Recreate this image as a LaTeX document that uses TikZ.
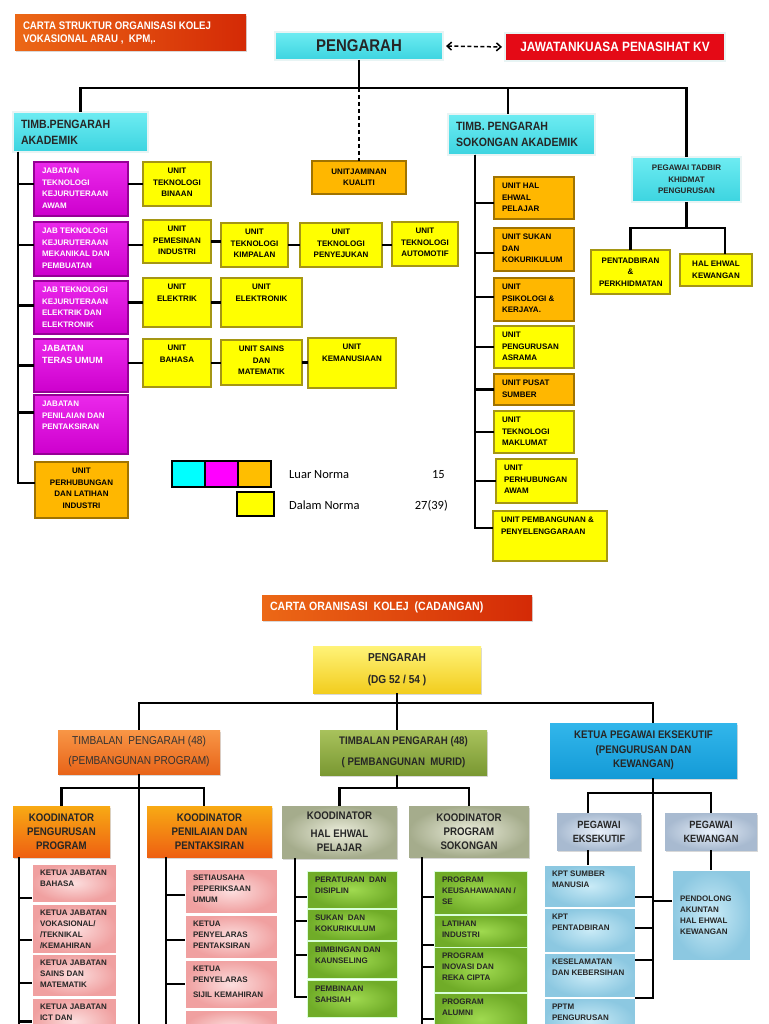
\documentclass[tikz,border=0pt]{standalone}
\usepackage{fontspec}
\setmainfont{Liberation Sans}
\newfontfamily\nar[FakeStretch=0.88]{Liberation Sans}
\newfontfamily\legf{Carlito}
\usetikzlibrary{shadows,arrows.meta}
\definecolor{cyT}{RGB}{110,236,242}
\definecolor{cyB}{RGB}{60,212,224}
\definecolor{cyE}{RGB}{232,244,244}
\definecolor{rdK}{RGB}{228,10,22}
\definecolor{tiL}{RGB}{236,104,22}
\definecolor{tiR}{RGB}{212,42,6}
\definecolor{mgT}{RGB}{235,40,235}
\definecolor{mgB}{RGB}{205,0,205}
\definecolor{mgE}{RGB}{150,0,150}
\definecolor{ylF}{RGB}{255,255,0}
\definecolor{ylE}{RGB}{165,150,20}
\definecolor{amF}{RGB}{255,183,0}
\definecolor{amE}{RGB}{160,115,0}
\definecolor{lgC}{RGB}{0,255,255}
\definecolor{lgM}{RGB}{255,0,255}
\definecolor{lgA}{RGB}{255,190,0}
\definecolor{bpT}{RGB}{255,243,120}
\definecolor{bpB}{RGB}{242,205,30}
\definecolor{t1T}{RGB}{248,150,70}
\definecolor{t1B}{RGB}{232,100,25}
\definecolor{t2T}{RGB}{168,194,92}
\definecolor{t2B}{RGB}{122,152,50}
\definecolor{keT}{RGB}{50,182,235}
\definecolor{keB}{RGB}{20,155,215}
\definecolor{kyT}{RGB}{248,170,20}
\definecolor{kyM}{RGB}{250,232,0}
\definecolor{kyB}{RGB}{238,96,18}
\definecolor{kgI}{RGB}{236,238,220}
\definecolor{kgO}{RGB}{165,172,140}
\definecolor{pgI}{RGB}{232,240,250}
\definecolor{pgO}{RGB}{168,186,208}
\definecolor{pkI}{RGB}{252,222,222}
\definecolor{pkO}{RGB}{240,160,160}
\definecolor{grI}{RGB}{160,218,80}
\definecolor{grO}{RGB}{112,172,40}
\definecolor{luI}{RGB}{202,235,247}
\definecolor{luO}{RGB}{140,200,225}
\newcommand\obox[8]{%
  \node[#2,anchor=north west,inner sep=0pt,outer sep=0pt,
    minimum width={(#5-#3)*1pt},minimum height={(#6-#4)*1pt}] (#1) at (#3,#4)
    {\parbox[c][\dimexpr#6pt-#4pt-12pt\relax][#7]{\dimexpr#5pt-#3pt-16pt\relax}{#8}};}
\begin{document}
\begin{tikzpicture}[x=1pt,y=-1pt,
  ln/.style={line width=2.2pt,black},
  sh/.style={drop shadow={shadow xshift=1.2pt,shadow yshift=-1.5pt,opacity=0.3}},
  cyanbox/.style={top color=cyT,bottom color=cyB,draw=cyE,line width=1.2pt,sh,text=black!85},
  hd/.style={font={\nar\bfseries\fontsize{12}{16}\selectfont}},
  titlebox/.style={left color=tiL,right color=tiR,draw=none,sh,text=white,font={\nar\bfseries\fontsize{11}{13.5}\selectfont}},
  redbox/.style={fill=rdK,draw=cyE,line width=1.2pt,sh,text=white,font={\nar\bfseries\fontsize{13.5}{16}\selectfont}},
  sm/.style={font={\fontsize{8}{11.5}\selectfont\bfseries}},
  magbox/.style={top color=mgT,bottom color=mgB,draw=mgE,line width=1.4pt,text=white,sm},
  ylbox/.style={fill=ylF,draw=ylE,line width=1.4pt,sm},
  ambox/.style={fill=amF,draw=amE,line width=1.4pt,sm},
  legbox/.style={draw=black,line width=1.2pt},
  bsm/.style={font={\fontsize{8}{11}\selectfont\bfseries},text=black!85},
  pkbox/.style={inner color=pkI,outer color=pkO,draw=white,line width=0.8pt,bsm},
  grbox/.style={inner color=grI,outer color=grO,draw=white!85!green,line width=0.8pt,bsm},
  lubox/.style={inner color=luI,outer color=luO,draw=white,line width=0.8pt,bsm},
  kd/.style={font={\nar\bfseries\fontsize{11}{14}\selectfont},text=black!85},
  kybox/.style={top color=kyT,middle color=kyM,bottom color=kyB,draw=none,sh,kd},
  kgbox/.style={inner color=kgI,outer color=kgO,draw=none,sh,kd},
  pgbox/.style={inner color=pgI,outer color=pgO,draw=none,sh,kd},
]
\useasboundingbox (0,0) rectangle (768,1024);
\clip (0,0) rectangle (768,1024);
\fill[white] (0,0) rectangle (768,1024);

% ===== TOP CHART =====
\obox{ttl}{titlebox}{15}{15}{246}{51}{c}{\raggedright CARTA STRUKTUR ORGANISASI KOLEJ\\VOKASIONAL ARAU ,\ \ KPM,.}
\obox{P}{cyanbox,font={\nar\bfseries\fontsize{17}{18}\selectfont}}{275}{32}{443}{60}{c}{\centering PENGARAH}
\obox{JK}{redbox}{505}{33}{725}{61}{c}{\centering JAWATANKUASA PENASIHAT KV}
\obox{TA}{cyanbox,hd}{13}{112}{148}{152}{c}{\raggedright TIMB.PENGARAH\\AKADEMIK}
\obox{TS}{cyanbox,hd}{448}{114}{595}{155}{c}{\raggedright TIMB. PENGARAH\\SOKONGAN AKADEMIK}
\obox{PT}{cyanbox,sm}{632}{157}{741}{202}{c}{\centering PEGAWAI TADBIR\\KHIDMAT\\PENGURUSAN}
\obox{UJK}{ambox}{312}{161}{406}{194}{c}{\centering UNITJAMINAN\\KUALITI}

\obox{M1}{magbox}{34}{162}{128}{216}{t}{\raggedright JABATAN\\TEKNOLOGI\\KEJURUTERAAN\\AWAM}
\obox{M2}{magbox}{34}{222}{128}{276}{t}{\raggedright JAB TEKNOLOGI\\KEJURUTERAAN\\MEKANIKAL DAN\\PEMBUATAN}
\obox{M3}{magbox}{34}{281}{128}{334}{t}{\raggedright JAB TEKNOLOGI\\KEJURUTERAAN\\ELEKTRIK DAN\\ELEKTRONIK}
\obox{M4}{magbox,font={\fontsize{9}{12}\selectfont\bfseries}}{34}{339}{128}{392}{t}{\raggedright JABATAN\\TERAS UMUM}
\obox{M5}{magbox}{34}{395}{128}{454}{t}{\raggedright JABATAN\\PENILAIAN DAN\\PENTAKSIRAN}
\obox{M6}{ambox}{35}{462}{128}{518}{t}{\centering UNIT\\PERHUBUNGAN\\DAN LATIHAN\\INDUSTRI}

\obox{U1}{ylbox}{143}{162}{211}{206}{t}{\centering UNIT\\TEKNOLOGI\\BINAAN}
\obox{U2}{ylbox}{143}{220}{211}{263}{t}{\centering UNIT\\PEMESINAN\\INDUSTRI}
\obox{K}{ylbox}{221}{223}{288}{267}{t}{\centering UNIT\\TEKNOLOGI\\KIMPALAN}
\obox{PY}{ylbox}{300}{223}{382}{267}{t}{\centering UNIT\\TEKNOLOGI\\PENYEJUKAN}
\obox{AU}{ylbox}{392}{222}{458}{266}{t}{\centering UNIT\\TEKNOLOGI\\AUTOMOTIF}
\obox{U3}{ylbox}{143}{278}{211}{327}{t}{\centering UNIT\\ELEKTRIK}
\obox{EL}{ylbox}{221}{278}{302}{327}{t}{\centering UNIT\\ELEKTRONIK}
\obox{U4}{ylbox}{143}{339}{211}{387}{t}{\centering UNIT\\BAHASA}
\obox{SM}{ylbox}{221}{340}{302}{385}{t}{\centering UNIT SAINS\\DAN\\MATEMATIK}
\obox{KM}{ylbox}{308}{338}{396}{388}{t}{\centering UNIT\\KEMANUSIAAN}

\obox{R1}{ambox}{494}{177}{574}{219}{t}{\raggedright UNIT HAL\\EHWAL\\PELAJAR}
\obox{R2}{ambox}{494}{228}{574}{271}{t}{\raggedright UNIT SUKAN\\DAN\\KOKURIKULUM}
\obox{R3}{ambox}{494}{278}{574}{321}{t}{\raggedright UNIT\\PSIKOLOGI \&\\KERJAYA.}
\obox{R4}{ylbox}{494}{326}{574}{368}{t}{\raggedright UNIT\\PENGURUSAN\\ASRAMA}
\obox{R5}{ambox}{494}{374}{574}{405}{t}{\raggedright UNIT PUSAT\\SUMBER}
\obox{R6}{ylbox}{494}{411}{574}{453}{t}{\raggedright UNIT\\TEKNOLOGI\\MAKLUMAT}
\obox{R7}{ylbox}{496}{459}{577}{503}{t}{\raggedright UNIT\\PERHUBUNGAN\\AWAM}
\obox{R8}{ylbox}{493}{511}{607}{561}{t}{\raggedright UNIT PEMBANGUNAN \&\\PENYELENGGARAAN}

\obox{PD}{ylbox}{591}{250}{670}{294}{c}{\centering PENTADBIRAN\\\&\\PERKHIDMATAN}
\obox{HE}{ylbox}{680}{254}{752}{286}{c}{\centering HAL EHWAL\\KEWANGAN}

% legend
\obox{L1}{legbox,fill=lgC}{172}{461}{205}{487}{c}{}
\obox{L2}{legbox,fill=lgM}{205}{461}{238}{487}{c}{}
\obox{L3}{legbox,fill=lgA}{238}{461}{271}{487}{c}{}
\obox{L4}{legbox,fill=ylF}{237}{492}{274}{516}{c}{}
\node[font={\legf\fontsize{12.5}{14}\selectfont},anchor=base west,inner sep=0pt] (lt1) at (289,478) {Luar Norma};
\node[font={\legf\fontsize{12.5}{14}\selectfont},anchor=base east,inner sep=0pt] (ln1) at (445,478) {15};
\node[font={\legf\fontsize{12.5}{14}\selectfont},anchor=base west,inner sep=0pt] (lt2) at (289,509) {Dalam Norma};
\node[font={\legf\fontsize{12.5}{14}\selectfont},anchor=base east,inner sep=0pt] (ln2) at (448,509) {27(39)};

% top connectors
\coordinate (bT) at (359,88);
\coordinate (jS) at (508,88);
\coordinate (bP) at (686.5,228);
\draw[ln] (P.south) -- (P.south |- bT);
\draw[ln] (TA.north) -- (TA.north |- bT) -- (PT.north |- bT) -- (PT.north);
\draw[ln] (jS) -- (jS |- TS.north);
\draw[line width=1.6pt,dash pattern=on 4pt off 3pt] (bT) -- (UJK.north);
\draw[line width=1.5pt,dash pattern=on 4pt off 2.5pt,{Straight Barb[length=4.5pt,width=8pt]}-{Straight Barb[length=4.5pt,width=8pt]},shorten <=3pt,shorten >=3pt] (P.east) -- (JK.west);

\draw[ln] ([xshift=5pt]TA.south west) |- ([yshift=5pt]M1.west);
\draw[ln] ([xshift=5pt]TA.south west) |- ([yshift=4pt]M2.west);
\draw[ln] ([xshift=5pt]TA.south west) |- ([yshift=2pt]M3.west);
\draw[ln] ([xshift=5pt]TA.south west) |- (M4.west);
\draw[ln] ([xshift=5pt]TA.south west) |- ([yshift=12pt]M5.west);
\draw[ln] ([xshift=5pt]TA.south west) |- ([yshift=7pt]M6.west);

\draw[ln] (U1.west -| M1.east) -- (U1.west);
\draw[ln] ([yshift=4pt]M2.east) -- ([yshift=4pt]M2.east -| U2.west);
\draw[ln] (U2.east) -- (U2.east -| K.west);
\draw[ln] (K.east) -- (K.east -| PY.west);
\draw[ln] (PY.east) -- (PY.east -| AU.west);
\draw[ln] (U3.west -| M3.east) -- (U3.west);
\draw[ln] (U3.east) -- (U3.east -| EL.west);
\draw[ln] (U4.west -| M4.east) -- (U4.west);
\draw[ln] (U4.east) -- (U4.east -| SM.west);
\draw[ln] (SM.east) -- (SM.east -| KM.west);

\draw[ln] ([xshift=27pt]TS.south west) |- ([yshift=-5pt]R1.west);
\draw[ln] ([xshift=27pt]TS.south west) |- ([yshift=-3.5pt]R2.west);
\draw[ln] ([xshift=27pt]TS.south west) |- ([yshift=2.5pt]R3.west);
\draw[ln] ([xshift=27pt]TS.south west) |- (R4.west);
\draw[ln] ([xshift=27pt]TS.south west) |- (R5.west);
\draw[ln] ([xshift=27pt]TS.south west) |- (R6.west);
\draw[ln] ([xshift=27pt]TS.south west) |- (R7.west);
\draw[ln] ([xshift=27pt]TS.south west) |- ([yshift=8pt]R8.west);

\draw[ln] (PT.south) -- (PT.south |- bP);
\draw[ln] (PD.north) |- ([xshift=9pt]HE.north |- bP) -- ([xshift=9pt]HE.north);

% ===== BOTTOM CHART =====
\obox{ttl2}{titlebox,font={\nar\bfseries\fontsize{12}{14}\selectfont}}{262}{595}{532}{620}{c}{\raggedright CARTA ORANISASI\ \ KOLEJ\ \ (CADANGAN)}
\obox{BP}{top color=bpT,bottom color=bpB,draw=none,sh,text=black!85,font={\nar\bfseries\fontsize{11.5}{22}\selectfont}}{313}{646}{481}{693}{c}{\centering PENGARAH\\(DG 52 / 54 )}
\obox{T1}{top color=t1T,bottom color=t1B,draw=none,sh,text=black!80,font={\nar\fontsize{11.5}{20}\selectfont}}{58}{730}{220}{774}{c}{\centering TIMBALAN\ \ PENGARAH (48)\\(PEMBANGUNAN PROGRAM)}
\obox{T2}{top color=t2T,bottom color=t2B,draw=none,sh,text=black!85,font={\nar\bfseries\fontsize{11}{21}\selectfont}}{320}{730}{487}{775}{c}{\centering TIMBALAN PENGARAH (48)\\( PEMBANGUNAN\ \ MURID)}
\obox{KE}{top color=keT,bottom color=keB,draw=none,sh,text=black!85,font={\nar\bfseries\fontsize{11}{14.5}\selectfont}}{550}{723}{737}{778}{c}{\centering KETUA PEGAWAI EKSEKUTIF\\(PENGURUSAN DAN\\KEWANGAN)}

\obox{KP}{kybox}{13}{806}{110}{857}{c}{\centering KOODINATOR\\PENGURUSAN\\PROGRAM}
\obox{KN}{kybox}{147}{806}{272}{857}{c}{\centering KOODINATOR\\PENILAIAN DAN\\PENTAKSIRAN}
\obox{KH}{kgbox}{282}{806}{397}{858}{t}{\centering KOODINATOR\\[4pt]HAL EHWAL\\PELAJAR}
\obox{KS}{kgbox}{409}{806}{529}{857}{c}{\centering KOODINATOR\\PROGRAM\\SOKONGAN}
\obox{PE}{pgbox,font={\nar\bfseries\fontsize{10.5}{14}\selectfont}}{557}{813}{641}{850}{c}{\centering PEGAWAI\\EKSEKUTIF}
\obox{PK}{pgbox,font={\nar\bfseries\fontsize{10.5}{14}\selectfont}}{665}{813}{757}{850}{c}{\centering PEGAWAI\\KEWANGAN}

\obox{K1}{pkbox}{32}{864}{116}{902}{t}{\raggedright KETUA JABATAN\\BAHASA}
\obox{K2}{pkbox}{32}{904}{116}{953}{t}{\raggedright KETUA JABATAN\\VOKASIONAL/\\/TEKNIKAL\\/KEMAHIRAN}
\obox{K3}{pkbox}{32}{954}{116}{996}{t}{\raggedright KETUA JABATAN\\SAINS DAN\\MATEMATIK}
\obox{K4}{pkbox}{32}{998}{116}{1045}{t}{\raggedright KETUA JABATAN\\ICT DAN}

\obox{S1}{pkbox}{185}{869}{277}{913}{t}{\raggedright SETIAUSAHA\\PEPERIKSAAN\\UMUM}
\obox{S2}{pkbox}{185}{915}{277}{958}{t}{\raggedright KETUA\\PENYELARAS\\PENTAKSIRAN}
\obox{S3}{pkbox}{185}{960}{277}{1008}{t}{\raggedright KETUA\\PENYELARAS\\[4pt]SIJIL KEMAHIRAN}
\obox{S4}{pkbox}{185}{1010}{277}{1045}{t}{}

\obox{G1}{grbox}{307}{871}{397}{908}{t}{\raggedright PERATURAN\ \ DAN\\DISIPLIN}
\obox{G2}{grbox}{307}{909}{397}{940}{t}{\raggedright SUKAN\ \ DAN\\KOKURIKULUM}
\obox{G3}{grbox}{307}{941}{397}{978}{t}{\raggedright BIMBINGAN DAN\\KAUNSELING}
\obox{G4}{grbox}{307}{980}{397}{1017}{t}{\raggedright PEMBINAAN\\SAHSIAH}

\obox{H1}{grbox}{434}{871}{527}{914}{t}{\raggedright PROGRAM\\KEUSAHAWANAN /\\SE}
\obox{H2}{grbox}{434}{915}{527}{947}{t}{\raggedright LATIHAN\\INDUSTRI}
\obox{H3}{grbox}{434}{947}{527}{992}{t}{\raggedright PROGRAM\\INOVASI DAN\\REKA CIPTA}
\obox{H4}{grbox}{434}{993}{527}{1045}{t}{\raggedright PROGRAM\\ALUMNI}

\obox{B1}{lubox}{544}{865}{635}{907}{t}{\raggedright KPT SUMBER\\MANUSIA}
\obox{B2}{lubox}{544}{908}{635}{952}{t}{\raggedright KPT\\PENTADBIRAN}
\obox{B3}{lubox}{544}{953}{635}{997}{t}{\raggedright KESELAMATAN\\DAN KEBERSIHAN}
\obox{B4}{lubox}{544}{998}{635}{1045}{t}{\raggedright PPTM\\PENGURUSAN}
\obox{PDL}{lubox}{672}{870}{750}{960}{c}{\raggedright PENDOLONG\\AKUNTAN\\HAL EHWAL\\KEWANGAN}

% bottom connectors
\coordinate (bB) at (397,703);
\coordinate (eB) at (0,1034);
\coordinate (b1) at (139,788);
\coordinate (b2) at (397,788);
\coordinate (b3) at (653,793);
\draw[ln] (BP.south) -- (bB);
\draw[ln] (T1.north) |- ([xshift=9.5pt]KE.north |- bB) -- ([xshift=9.5pt]KE.north);
\draw[ln] (bB) -- (bB |- T2.north);

\draw[ln] (T1.south) -- (T1.south |- eB);
\draw[ln] (KP.north) |- ([xshift=-5.5pt]KN.north |- b1) -- ([xshift=-5.5pt]KN.north);

\draw[ln] ([xshift=6pt]KP.south west) -- ([xshift=6pt]KP.south west |- eB);
\draw[ln] ([xshift=6pt]KP.south west) |- ([yshift=-15pt]K1.west);
\draw[ln] ([xshift=6pt]KP.south west) |- ([yshift=-11.5pt]K2.west);
\draw[ln] ([xshift=6pt]KP.south west) |- ([yshift=-8pt]K3.west);
\draw[ln] ([xshift=6pt]KP.south west) |- (K4.west);

\draw[ln] ([xshift=19pt]KN.south west) -- ([xshift=19pt]KN.south west |- eB);
\draw[ln] ([xshift=19pt]KN.south west) |- ([yshift=-4pt]S1.west);
\draw[ln] ([xshift=19pt]KN.south west) |- ([yshift=-3.5pt]S2.west);
\draw[ln] ([xshift=19pt]KN.south west) |- (S3.west);

\draw[ln] (b2 |- T2.south) -- (b2);
\draw[ln] (KH.north) |- (b2) -| (KS.north);

\draw[ln] ([xshift=13pt]KH.south west) |- ([yshift=-7.5pt]G1.west);
\draw[ln] ([xshift=13pt]KH.south west) |- ([yshift=3.5pt]G2.west);
\draw[ln] ([xshift=13pt]KH.south west) |- ([yshift=4.5pt]G3.west);
\draw[ln] ([xshift=13pt]KH.south west) |- ([yshift=1.5pt]G4.west);

\draw[ln] ([xshift=13pt]KS.south west) -- ([xshift=13pt]KS.south west |- eB);
\draw[ln] ([xshift=13pt]KS.south west) |- ([yshift=-4.5pt]H1.west);
\draw[ln] ([xshift=13pt]KS.south west) |- ([yshift=-14pt]H2.west);
\draw[ln] ([xshift=13pt]KS.south west) |- ([yshift=2.5pt]H3.west);
\draw[ln] ([xshift=13pt]KS.south west) |- (H4.west);

\draw[ln] ([xshift=9.5pt]KE.south) |- ([yshift=-11pt]B1.east);
\draw[ln] ([xshift=9.5pt]KE.south) |- ([yshift=2pt]B2.east);
\draw[ln] ([xshift=9.5pt]KE.south) |- ([yshift=15pt]B3.east);
\draw[ln] ([xshift=9.5pt]KE.south) |- (B4.north east);
\draw[ln] ([yshift=14pt]PDL.west) -- ([yshift=14pt]PDL.west -| b3);
\draw[ln] ([xshift=-11pt]PE.north) |- (b3) -| (PK.north);
\draw[ln] ([xshift=-11pt]PE.south) -- ([xshift=-11pt]PE.south |- B1.north);
\draw[ln] (PK.south) -- (PK.south |- PDL.north);
\end{tikzpicture}
\end{document}
